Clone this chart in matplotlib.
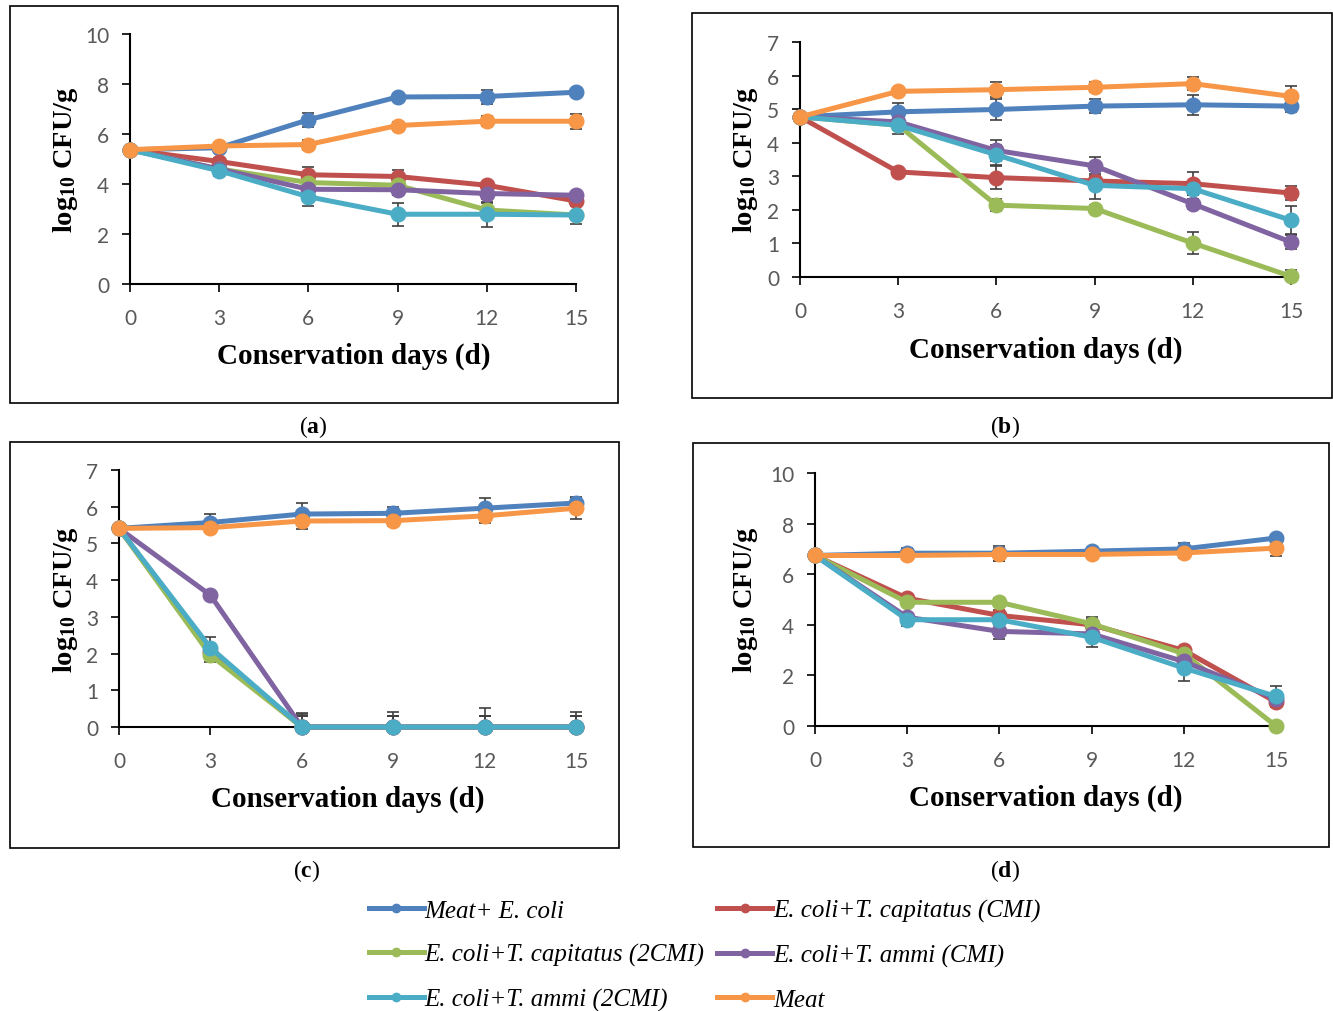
import numpy as np
import matplotlib
matplotlib.use('Agg')
import matplotlib.pyplot as plt
from matplotlib.patches import Rectangle
from matplotlib.lines import Line2D

plt.rcParams['mathtext.fontset'] = 'custom'
plt.rcParams['mathtext.rm'] = 'Liberation Serif'
plt.rcParams['mathtext.bf'] = 'Liberation Serif:bold'
plt.rcParams['mathtext.it'] = 'Liberation Serif:italic'

days = [0, 3, 6, 9, 12, 15]
names = ['Meat+ E. coli', 'E. coli+T. capitatus (CMI)', 'E. coli+T. capitatus (2CMI)',
         'E. coli+T. ammi (CMI)', 'E. coli+T. ammi (2CMI)', 'Meat']
colors = ['#4F81BD', '#C0504D', '#9BBB59', '#8064A2', '#4BACC6', '#F79646']

# order of series: meat+E.coli, capitatus CMI, capitatus 2CMI, ammi CMI, ammi 2CMI, meat
a_vals = [[5.37, 5.45, 6.57, 7.48, 7.50, 7.67],
          [5.37, 4.90, 4.37, 4.30, 3.95, 3.32],
          [5.37, 4.60, 4.06, 3.95, 2.96, 2.76],
          [5.37, 4.60, 3.79, 3.77, 3.62, 3.55],
          [5.37, 4.53, 3.49, 2.79, 2.79, 2.76],
          [5.37, 5.52, 5.58, 6.34, 6.51, 6.51]]
a_err = [[0.05, 0.15, 0.28, 0.12, 0.28, 0.12],
         [0.05, 0.15, 0.30, 0.25, 0.15, 0.15],
         [0.05, 0.15, 0.20, 0.20, 0.30, 0.15],
         [0.05, 0.15, 0.20, 0.20, 0.20, 0.10],
         [0.05, 0.20, 0.38, 0.45, 0.50, 0.35],
         [0.05, 0.10, 0.20, 0.15, 0.20, 0.30]]

b_vals = [[4.77, 4.92, 4.99, 5.09, 5.13, 5.09],
          [4.77, 3.13, 2.96, 2.86, 2.78, 2.50],
          [4.77, 4.52, 2.14, 2.04, 1.01, 0.02],
          [4.77, 4.62, 3.77, 3.31, 2.18, 1.04],
          [4.77, 4.52, 3.64, 2.73, 2.63, 1.69],
          [4.77, 5.53, 5.58, 5.65, 5.76, 5.38]]
b_err = [[0.05, 0.25, 0.30, 0.20, 0.30, 0.18],
         [0.05, 0.10, 0.35, 0.15, 0.35, 0.20],
         [0.05, 0.15, 0.18, 0.10, 0.32, 0.18],
         [0.05, 0.15, 0.32, 0.25, 0.15, 0.22],
         [0.05, 0.25, 0.30, 0.42, 0.20, 0.42],
         [0.05, 0.10, 0.22, 0.15, 0.20, 0.32]]

c_vals = [[5.41, 5.57, 5.80, 5.82, 5.96, 6.10],
          [5.41, 2.05, 0.00, 0.00, 0.00, 0.00],
          [5.41, 1.96, 0.00, 0.00, 0.00, 0.00],
          [5.41, 3.59, 0.00, 0.00, 0.00, 0.00],
          [5.41, 2.16, 0.00, 0.00, 0.00, 0.00],
          [5.41, 5.43, 5.61, 5.62, 5.75, 5.96]]
c_err = [[0.05, 0.22, 0.30, 0.18, 0.28, 0.15],
         [0.05, 0.20, 0.30, 0.30, 0.30, 0.30],
         [0.05, 0.20, 0.30, 0.30, 0.30, 0.30],
         [0.05, 0.10, 0.35, 0.30, 0.30, 0.30],
         [0.05, 0.28, 0.38, 0.42, 0.52, 0.42],
         [0.05, 0.12, 0.22, 0.15, 0.20, 0.30]]

d_vals = [[6.74, 6.83, 6.83, 6.91, 7.00, 7.43],
          [6.74, 5.05, 4.37, 4.00, 2.99, 0.95],
          [6.74, 4.89, 4.89, 4.04, 2.86, 0.00],
          [6.74, 4.30, 3.74, 3.64, 2.55, 1.08],
          [6.74, 4.20, 4.20, 3.51, 2.29, 1.17],
          [6.74, 6.74, 6.78, 6.78, 6.84, 7.03]]
d_err = [[0.05, 0.20, 0.30, 0.10, 0.25, 0.12],
         [0.05, 0.15, 0.20, 0.30, 0.15, 0.15],
         [0.05, 0.15, 0.15, 0.20, 0.20, 0.10],
         [0.05, 0.15, 0.30, 0.20, 0.20, 0.15],
         [0.05, 0.25, 0.20, 0.40, 0.50, 0.40],
         [0.05, 0.15, 0.25, 0.15, 0.20, 0.30]]

W, H = 1333, 1012
fig = plt.figure(figsize=(W / 100, H / 100), dpi=100, facecolor='white')

def fx(px):
    return px / W

def fy(py):
    return 1 - py / H

# pixel boxes: axes (left, top, right, bottom), frame, labels
panels = [
    dict(vals=a_vals, err=a_err, ymax=10, ystep=2, ax=(130, 35, 576, 285),
         frame=(10, 7, 618, 404), xl=(354, 356), yl=(65, 160), tag='a', tagpos=(313, 427)),
    dict(vals=b_vals, err=b_err, ymax=7, ystep=1, ax=(800, 43, 1291, 278),
         frame=(692, 14, 1332, 399), xl=(1046, 350), yl=(745, 160), tag='b', tagpos=(1005, 427)),
    dict(vals=c_vals, err=c_err, ymax=7, ystep=1, ax=(119, 471, 576, 728),
         frame=(10, 443, 619, 849), xl=(348, 799), yl=(65, 600), tag='c', tagpos=(307, 871)),
    dict(vals=d_vals, err=d_err, ymax=10, ystep=2, ax=(815, 474, 1276, 727),
         frame=(693, 444, 1329, 848), xl=(1046, 798), yl=(746, 600), tag='d', tagpos=(1005, 871)),
]

serif = 'Liberation Serif'

for p in panels:
    l, t, r, b = p['ax']
    ax = fig.add_axes([fx(l), fy(b), fx(r - l), (b - t) / H])
    for k in range(6):
        v = np.array(p['vals'][k])
        e = np.array(p['err'][k])
        lo = np.minimum(e, v)
        ax.errorbar(days, v, yerr=[lo, e], fmt='none', ecolor='#404040',
                    elinewidth=1.2, capsize=4, capthick=1.2, zorder=2 + k * 0.1, clip_on=False)
        ax.plot(days, v, '-o', color=colors[k], lw=3.6, ms=10.5, zorder=3 + k * 0.1, clip_on=False)
    ax.set_xlim(0, 15)
    ax.set_ylim(0, p['ymax'])
    ax.set_xticks(days)
    ax.set_yticks(np.arange(0, p['ymax'] + 0.1, p['ystep']))
    for s in ['top', 'right']:
        ax.spines[s].set_visible(False)
    for s in ['left', 'bottom']:
        ax.spines[s].set_linewidth(1.5)
        ax.spines[s].set_zorder(1)
    ax.tick_params(axis='both', direction='out', length=6, width=1.2, colors='black',
                   labelcolor='#595959', labelsize=15)
    for lab in ax.get_xticklabels() + ax.get_yticklabels():
        lab.set_family('Lato')
    ax.tick_params(axis='x', pad=11)
    ax.tick_params(axis='y', pad=9)
    ax.set_facecolor('none')
    fl, ft, fr, fb = p['frame']
    fig.patches.append(Rectangle((fx(fl), fy(fb)), fx(fr - fl), (fb - ft) / H,
                                 transform=fig.transFigure, fill=False, ec='black', lw=1.2))
    fig.text(fx(p['xl'][0]), fy(p['xl'][1]), 'Conservation days (d)', ha='center', va='center',
             family=serif, fontweight='bold', fontsize=21)
    fig.text(fx(p['yl'][0]), fy(p['yl'][1]), r'$\mathbf{log_{10}}$ CFU/g', ha='center', va='center',
             rotation=90, family=serif, fontweight='bold', fontsize=20.5)
    fig.text(fx(p['tagpos'][0]), fy(p['tagpos'][1]), r'($\mathbf{' + p['tag'] + '}$)',
             ha='center', va='center', family=serif, fontsize=17)

handles = [Line2D([], [], color=c, lw=3.6, marker='o', ms=6) for c in colors]
order = [0, 2, 4, 1, 3, 5]
leg = fig.legend([handles[i] for i in order], [names[i] for i in order], ncol=2,
                 loc='center left', bbox_to_anchor=(fx(346), fy(956)), frameon=False,
                 prop=dict(family=serif, style='italic', size=18), handlelength=2.2,
                 handletextpad=0.05, columnspacing=0.5, labelspacing=0.85)

fig.savefig('out.png', dpi=100)
